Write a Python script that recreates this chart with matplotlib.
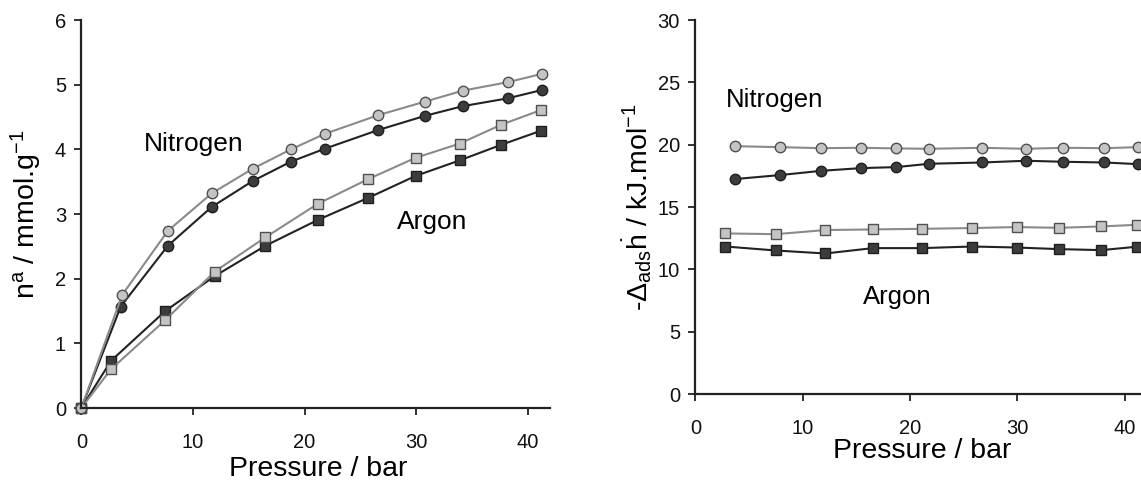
# -*- coding: utf-8 -*-

import numpy as np
import matplotlib as mpl
mpl.use('Agg')
import matplotlib.pyplot as plt

mpl.rcParams['font.family'] = ['Liberation Sans', 'DejaVu Sans']
mpl.rcParams['mathtext.fontset'] = 'custom'
mpl.rcParams['mathtext.rm'] = 'Liberation Sans'
mpl.rcParams['mathtext.it'] = 'Liberation Sans:italic'
mpl.rcParams['mathtext.bf'] = 'Liberation Sans:bold'
mpl.rcParams['xtick.labelsize'] = 14.5
mpl.rcParams['ytick.labelsize'] = 14.5

# adsorbed amount, mmol/g
n2_p_light = [0, 3.66, 7.75, 11.68, 15.34, 18.77, 21.8, 26.6, 30.8, 34.2, 38.2, 41.3]
n2_n_light = [0, 1.75, 2.74, 3.32, 3.70, 4.00, 4.24, 4.53, 4.74, 4.91, 5.04, 5.17]
n2_p_dark = [0, 3.53, 7.75, 11.68, 15.34, 18.77, 21.8, 26.6, 30.8, 34.2, 38.2, 41.3]
n2_n_dark = [0, 1.57, 2.51, 3.11, 3.51, 3.81, 4.01, 4.30, 4.52, 4.67, 4.79, 4.92]
ar_p = [0, 2.66, 7.52, 11.95, 16.5, 21.2, 25.7, 29.95, 33.9, 37.6, 41.2]
ar_n_dark = [0, 0.73, 1.50, 2.04, 2.51, 2.91, 3.25, 3.59, 3.83, 4.07, 4.29]
ar_n_light = [0, 0.60, 1.36, 2.11, 2.64, 3.16, 3.54, 3.87, 4.09, 4.38, 4.61]

# heat of adsorption, kJ/mol
n2_ph = [3.67, 7.87, 11.7, 15.43, 18.7, 21.8, 26.7, 30.8, 34.2, 38.1, 41.2]
n2_h_light = [19.89, 19.81, 19.73, 19.76, 19.71, 19.68, 19.76, 19.68, 19.76, 19.73, 19.81]
n2_h_dark = [17.25, 17.57, 17.91, 18.13, 18.21, 18.48, 18.58, 18.72, 18.64, 18.58, 18.45]
ar_ph = [2.8, 7.5, 12.1, 16.53, 21.1, 25.77, 29.93, 33.87, 37.8, 41.1]
ar_h_light = [12.89, 12.83, 13.16, 13.21, 13.26, 13.32, 13.40, 13.34, 13.45, 13.58]
ar_h_dark = [11.84, 11.52, 11.28, 11.71, 11.71, 11.84, 11.76, 11.63, 11.55, 11.82]

LIGHT = dict(color='#8a8a8a', mfc='#c4c4c4', mec='#505050')
DARK = dict(color='#222222', mfc='#3c3c3c', mec='#1e1e1e')


def series(ax, x, y, marker, style, ms):
  ax.plot(x, y, marker=marker, ms=ms, lw=1.5, mew=1.0, clip_on=False, **style)


def styleAxes(ax):
  for s in ['top', 'right']:
    ax.spines[s].set_visible(False)
  for s in ['left', 'bottom']:
    ax.spines[s].set_linewidth(1.6)
    ax.spines[s].set_color('#222222')
  ax.tick_params(direction='out', length=5, width=1.3, colors='#222222',
                 labelsize=14.5, labelcolor='#111111')


fig = plt.figure(figsize=(11.41, 4.8), dpi=100)

# isotherms
ax1 = fig.add_axes([0.0713, 0.15, 0.4107, 0.808])
series(ax1, ar_p, ar_n_dark, 's', DARK, 7)
series(ax1, ar_p, ar_n_light, 's', LIGHT, 7)
series(ax1, n2_p_dark, n2_n_dark, 'o', DARK, 7.5)
series(ax1, n2_p_light, n2_n_light, 'o', LIGHT, 7.5)
ax1.set_xlim(0, 42)
ax1.set_ylim(0, 6)
ax1.set_xticks([0, 10, 20, 30, 40])
ax1.set_yticks(range(7))
styleAxes(ax1)
ax1.tick_params(axis='x', pad=13)
ax1.tick_params(axis='y', pad=6)
ax1.set_xlabel('Pressure / bar', fontsize=20.5)
ax1.xaxis.set_label_coords(0.505, -0.123)
ax1.set_ylabel(r'n$^{\mathrm{a}}$ / mmol.g$^{\mathrm{-1}}$', fontsize=20.5)
ax1.yaxis.set_label_coords(-0.08, 0.5)
ax1.text(5.6, 4.09, 'Nitrogen', fontsize=19, va='center')
ax1.text(28.3, 2.88, 'Argon', fontsize=19, va='center')

# heats of adsorption
ax2 = fig.add_axes([0.6094, 0.179, 0.3906, 0.779])
series(ax2, ar_ph, ar_h_dark, 's', DARK, 7)
series(ax2, ar_ph, ar_h_light, 's', LIGHT, 7)
series(ax2, n2_ph, n2_h_dark, 'o', DARK, 7.5)
series(ax2, n2_ph, n2_h_light, 'o', LIGHT, 7.5)
ax2.set_xlim(0, 41.5)
ax2.set_ylim(0, 30)
ax2.set_xticks([0, 10, 20, 30, 40])
ax2.set_yticks(range(0, 31, 5))
styleAxes(ax2)
ax2.tick_params(axis='x', pad=13)
ax2.tick_params(axis='y', pad=6)
ax2.set_xlabel('Pressure / bar', fontsize=20.5)
ax2.xaxis.set_label_coords(0.508, -0.118)
ax2.set_ylabel(r'-$\Delta_{\mathrm{ads}}\dot{\mathrm{h}}$ / kJ.mol$^{\mathrm{-1}}$',
               fontsize=20.5)
ax2.yaxis.set_label_coords(-0.093, 0.5)
ax2.text(2.83, 23.6, 'Nitrogen', fontsize=18.5, va='center')
ax2.text(15.57, 7.75, 'Argon', fontsize=18.5, va='center')

fig.savefig('out.png', dpi=100)
